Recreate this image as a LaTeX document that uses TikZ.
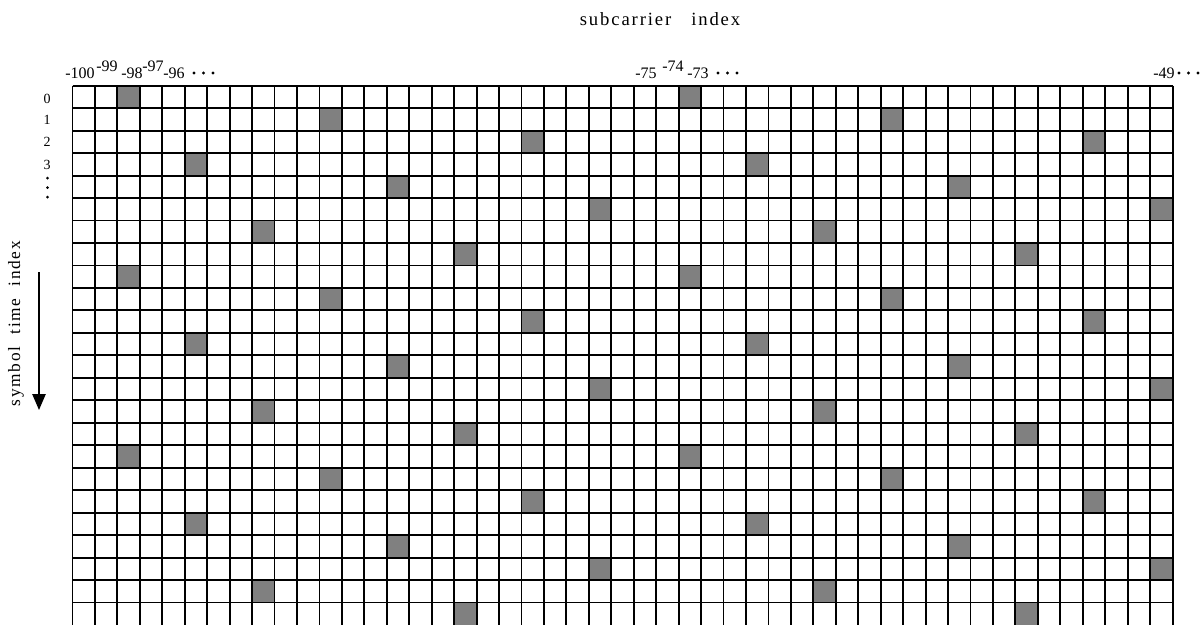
\documentclass[tikz,border=0pt]{standalone}
\usepackage{fontspec}
\setmainfont{Liberation Serif}
\newfontfamily\spacedfont[LetterSpace=10]{Liberation Serif}
\usetikzlibrary{arrows.meta}
\begin{document}
\begin{tikzpicture}[x=0.75pt,y=-0.75pt,
  collbl/.style={inner sep=0pt, anchor=base west, font=\fontsize{12}{12}\selectfont},
  rowlbl/.style={inner sep=0pt, anchor=base, font=\fontsize{10.5}{10.5}\selectfont},
  titlelbl/.style={inner sep=0pt, font=\spacedfont\fontsize{14}{14}\selectfont},
  sidelbl/.style={inner sep=0pt, font=\spacedfont\fontsize{13}{13}\selectfont},
  gridline/.style={line width=1.4pt, black},
  pilot/.style={fill=gray},
  dotmark/.style={fill=black}]
\useasboundingbox (0,0) rectangle (1201,625);
% shaded cells
\foreach \r/\c in {0/2,1/11,2/20,3/5,4/14,5/23,6/8,7/17}{
  \foreach \k in {0,8,16}{
    \foreach \d in {0,25}{
      \fill[pilot] ({72.5+(\c+\d)*22.45},{85.7+(\r+\k)*22.47}) rectangle ++(22.45,22.47);
    }
  }
}
% grid
\foreach \i in {0,...,49}
  \draw[gridline] ({72.5+\i*22.45},85.7) -- ({72.5+\i*22.45},625);
\foreach \j in {0,...,23}
  \draw[gridline] (72.5,{85.7+\j*22.47}) -- (1172.55,{85.7+\j*22.47});
% title
\node[titlelbl] (title) at (660,19) {subcarrier\hspace{15pt}index};
% column labels
\node[collbl] (c100) at (65,78) {-100};
\node[collbl] (c99) at (96,71) {-99};
\node[collbl] (c98) at (121,78) {-98};
\node[collbl] (c97) at (142,71) {-97};
\node[collbl] (c96) at (163,78) {-96};
\node[collbl] (c75) at (635,78) {-75};
\node[collbl] (c74) at (662,71) {-74};
\node[collbl] (c73) at (687,78) {-73};
\node[collbl] (c49) at (1153,78) {-49};
\foreach \x in {194,203.5,213, 718,727.5,737, 1179,1188.5,1198}
  \fill[dotmark] (\x,73) circle (1.7);
% row labels
\node[rowlbl] (r0) at (47,103.5) {0};
\node[rowlbl] (r1) at (47,124.5) {1};
\node[rowlbl] (r2) at (47,146) {2};
\node[rowlbl] (r3) at (47,169) {3};
\foreach \y in {178,187.5,197}
  \fill[dotmark] (47.5,\y) circle (1.5);
% vertical axis
\node[sidelbl, rotate=90] (ylbl) at (16,323.5) {symbol\hspace{9pt}time\hspace{9pt}index};
\coordinate (atop) at (39,272);
\coordinate (abot) at (39,410);
\draw[line width=1.1pt, -{Triangle[length=12pt,width=10pt]}] (atop) -- (abot);
\end{tikzpicture}
\end{document}
